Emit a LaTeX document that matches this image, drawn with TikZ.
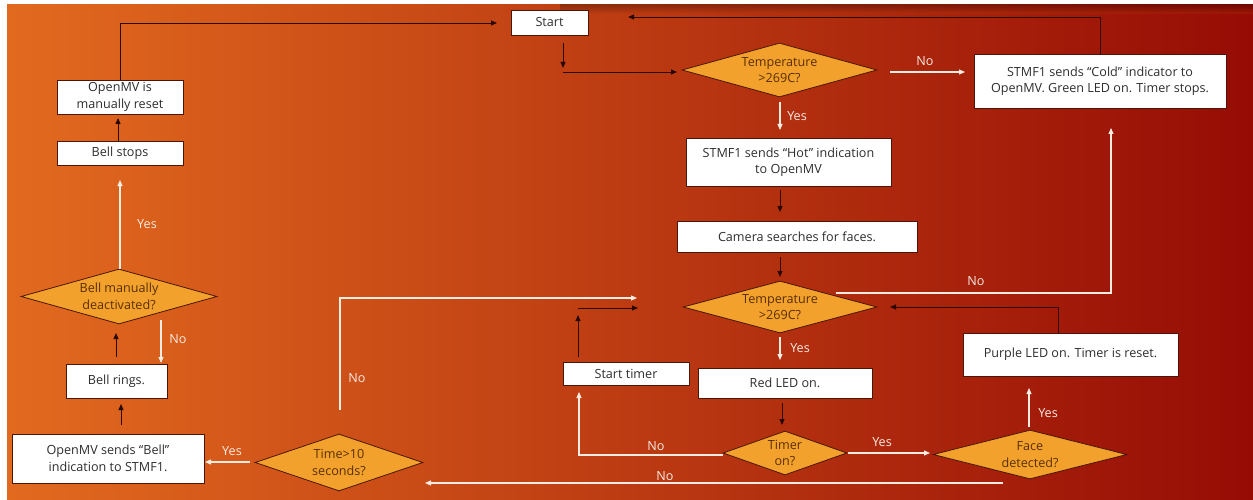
\documentclass[tikz,border=0pt]{standalone}
\usepackage{fontspec}
\setmainfont{Open Sans}
\usetikzlibrary{shapes.geometric,arrows.meta}
\definecolor{bgA}{HTML}{E26A1F}
\definecolor{bgB}{HTML}{C9400D}
\definecolor{bgC}{HTML}{960C05}
\definecolor{boxline}{HTML}{4A1608}
\definecolor{diafill}{HTML}{F2A22C}
\definecolor{diatxt}{HTML}{5A2E02}
\definecolor{txt}{HTML}{2E2E2E}
\definecolor{wline}{HTML}{F8EBE2}
\definecolor{bline}{HTML}{2A0800}
\begin{document}
\begin{tikzpicture}[x=1pt,y=-1pt,
  every node/.style={font=\fontsize{12.6}{16.5}\selectfont},
  box/.style={draw=boxline, fill=white, line width=0.8pt, inner sep=0pt, align=center, text=txt},
  dia/.style={diamond, draw=boxline, fill=diafill, line width=0.8pt, inner sep=-12pt, aspect=3.5, align=center, text=diatxt},
  blk/.style={draw=bline, line width=0.9pt, -{Triangle[length=6pt,width=5pt]}},
  wht/.style={draw=wline, line width=1.1pt, -{Triangle[length=6pt,width=5pt]}},
  lbl/.style={text=wline, inner sep=0pt}]
\useasboundingbox (0,0) rectangle (1253,500);
\fill[white] (0,0) rectangle (1253,500);
\shade[left color=bgA, middle color=bgB, right color=bgC] (7,5) rectangle (1253,500);
\shade[top color=black, bottom color=bgB, opacity=0.25] (560,5) rectangle (1253,14);

% nodes
\node[box, minimum width=77, minimum height=25] (start) at (549.5,22.5) {Start};
\node[dia, minimum width=195, minimum height=54] (temp1) at (779.5,70) {Temperature\\>269C?};
\node[box, minimum width=252, minimum height=54] (cold) at (1100,81) {STMF1 sends “Cold” indicator to\\OpenMV. Green LED on. Timer stops.};
\node[box, minimum width=205, minimum height=48] (hot) at (788.5,162) {STMF1 sends “Hot” indication\\to OpenMV};
\node[box, minimum width=240, minimum height=31] (camera) at (797,236.5) {Camera searches for faces.};
\node[dia, minimum width=194, minimum height=52] (temp2) at (780,307) {Temperature\\>269C?};
\node[box, minimum width=126, minimum height=23] (stimer) at (626,373.5) {Start timer};
\node[box, minimum width=174, minimum height=30] (redled) at (785,383) {Red LED on.};
\node[dia, minimum width=124, minimum height=44] (timeron) at (785,453) {Timer\\on?};
\node[dia, minimum width=194, minimum height=49] (face) at (1030,454.5) {Face\\detected?};
\node[box, minimum width=215, minimum height=43] (purple) at (1070.5,354.5) {Purple LED on. Timer is reset.};
\node[dia, minimum width=168, minimum height=57] (time10) at (339,462.5) {Time>10\\seconds?};
\node[box, minimum width=192, minimum height=49] (bellsend) at (108,458.5) {OpenMV sends “Bell”\\indication to STMF1.};
\node[box, minimum width=101, minimum height=34] (bellrings) at (116.5,381) {Bell rings.};
\node[dia, minimum width=196, minimum height=55] (bellman) at (119,296.5) {Bell manually\\deactivated?};
\node[box, minimum width=126, minimum height=24] (bellstops) at (120,153) {Bell stops};
\node[box, minimum width=126, minimum height=34] (reset) at (120,97) {OpenMV is\\manually reset};

% coordinates
\coordinate (cA) at (497,23);
\coordinate (cB) at (628,17);
\coordinate (cC1) at (563,43);
\coordinate (cC2) at (563,68);
\coordinate (cC3) at (563,72);
\coordinate (cC4) at (677,72);
\coordinate (n1a) at (890,72);
\coordinate (n1b) at (965,72);
\coordinate (y1a) at (780,102);
\coordinate (y1b) at (780,130);
\coordinate (hc1) at (780,190);
\coordinate (hc2) at (780,212);
\coordinate (ct1) at (780,257);
\coordinate (ct2) at (780,277);
\coordinate (n2a) at (836,293);
\coordinate (n2b) at (1111,128);
\coordinate (y2a) at (780,337);
\coordinate (y2b) at (780,360);
\coordinate (st1) at (578,357);
\coordinate (st2) at (578,315);
\coordinate (st3) at (578,308);
\coordinate (st4) at (638,308);
\coordinate (rl1) at (782,403);
\coordinate (rl2) at (782,425);
\coordinate (tn1) at (723,455);
\coordinate (tn2) at (579,392);
\coordinate (ty1) at (848,453);
\coordinate (ty2) at (930,453);
\coordinate (fy1) at (1029,427);
\coordinate (fy2) at (1029,388);
\coordinate (pu2) at (890,307);
\coordinate (fn1) at (1003,483);
\coordinate (fn2) at (425,483);
\coordinate (t10y1) at (250,462);
\coordinate (t10y2) at (205,462);
\coordinate (t10n1) at (340,410);
\coordinate (t10n2) at (637,298);
\coordinate (bs1) at (121,425);
\coordinate (bs2) at (121,404);
\coordinate (br1) at (116,357);
\coordinate (br2) at (116,333);
\coordinate (bn1) at (161,320);
\coordinate (bn2) at (161,363);
\coordinate (by1) at (120,269);
\coordinate (by2) at (120,180);
\coordinate (bt1) at (118,141);
\coordinate (bt2) at (118,118);

% black connectors
\draw[blk] (reset.north) |- (cA);
\draw[blk] (cold.north) |- (cB);
\draw[blk] (cC1) -- (cC2);
\draw[blk] (cC3) -- (cC4);
\draw[blk] (hc1) -- (hc2);
\draw[blk] (ct1) -- (ct2);
\draw[blk] (st1) -- (st2);
\draw[blk] (st3) -- (st4);
\draw[blk] (rl1) -- (rl2);
\draw[blk] ([xshift=-12]purple.north) |- (pu2);
\draw[blk] (bs1) -- (bs2);
\draw[blk] (br1) -- (br2);
\draw[blk] (bt1) -- (bt2);

% white connectors
\draw[wht] (n1a) -- (n1b);
\draw[wht] (y1a) -- (y1b);
\draw[wht] (n2a) -| (n2b);
\draw[wht] (y2a) -- (y2b);
\draw[wht] (tn1) -| (tn2);
\draw[wht] (ty1) -- (ty2);
\draw[wht] (fy1) -- (fy2);
\draw[wht] (fn1) -- (fn2);
\draw[wht] (t10y1) -- (t10y2);
\draw[wht] (t10n1) |- (t10n2);
\draw[wht] (bn1) -- (bn2);
\draw[wht] (by1) -- (by2);

% labels
\node[lbl] (l1) at (925,61) {No};
\node[lbl] (l2) at (797,116) {Yes};
\node[lbl] (l3) at (976,281) {No};
\node[lbl] (l4) at (800,348) {Yes};
\node[lbl] (l5) at (656,446) {No};
\node[lbl] (l6) at (882,442) {Yes};
\node[lbl] (l7) at (1048,413) {Yes};
\node[lbl] (l8) at (665,476) {No};
\node[lbl] (l9) at (232,451) {Yes};
\node[lbl] (l10) at (357,378) {No};
\node[lbl] (l11) at (178,339) {No};
\node[lbl] (l12) at (147,224) {Yes};
\end{tikzpicture}
\end{document}
